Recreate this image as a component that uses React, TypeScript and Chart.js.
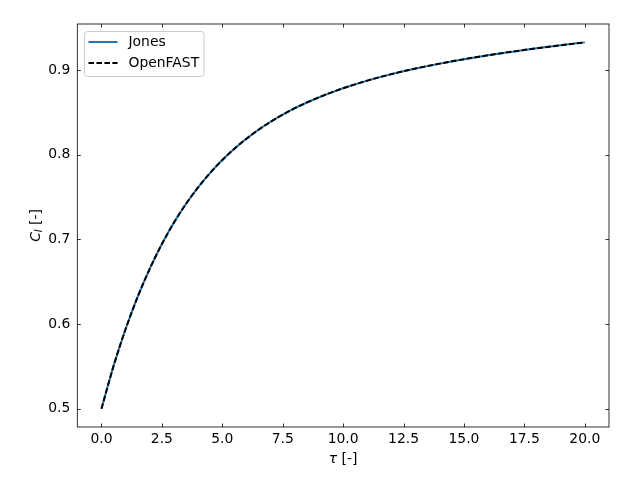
import React, { useEffect, useRef } from "react";
import { Chart, registerables } from "chart.js";

Chart.register(...registerables);

const tau: number[] = [0, 0.5, 1, 1.5, 2, 2.5, 3, 3.5, 4, 4.5, 5, 5.5, 6, 6.5, 7, 7.5, 8, 8.5, 9, 9.5, 10, 11, 12, 13, 14, 15, 16, 17, 18, 19, 20];
const jones: number[] = [0.5, 0.5504, 0.5942, 0.6323, 0.6655, 0.6945, 0.7199, 0.7421, 0.7616, 0.7787, 0.7938, 0.8072, 0.819, 0.8296, 0.839, 0.8474, 0.855, 0.8618, 0.8679, 0.8735, 0.8786, 0.8876, 0.8953, 0.9019, 0.9077, 0.9129, 0.9176, 0.9218, 0.9258, 0.9294, 0.9328];
const openfast: number[] = [0.5, 0.5504, 0.5942, 0.6323, 0.6655, 0.6945, 0.7199, 0.7421, 0.7616, 0.7787, 0.7938, 0.8072, 0.819, 0.8296, 0.839, 0.8474, 0.855, 0.8618, 0.8679, 0.8735, 0.8786, 0.8876, 0.8953, 0.9019, 0.9077, 0.9129, 0.9176, 0.9218, 0.9258, 0.9294, 0.9328];
const xTicks: number[] = [0, 2.5, 5, 7.5, 10, 12.5, 15, 17.5, 20];
const yTicks: number[] = [0.5, 0.6, 0.7, 0.8, 0.9];
const seriesNames: string[] = ["Jones", "OpenFAST"];

const FONT = "DejaVu Sans";
const FS = 13.9;

const decorPlugin = {
  id: "decor",
  afterDraw(chart: any) {
    const ctx = chart.ctx as CanvasRenderingContext2D;
    const { left, right, top, bottom } = chart.chartArea;
    const xs = chart.scales.x;
    const ys = chart.scales.y;
    ctx.save();
    ctx.strokeStyle = "#000";
    ctx.lineWidth = 0.8;
    ctx.strokeRect(left, top, right - left, bottom - top);
    const tl = 3.5;
    ctx.beginPath();
    xTicks.forEach((v) => {
      const px = Math.round(xs.getPixelForValue(v)) + 0.5;
      ctx.moveTo(px, bottom);
      ctx.lineTo(px, bottom - tl);
      ctx.moveTo(px, top);
      ctx.lineTo(px, top + tl);
    });
    yTicks.forEach((v) => {
      const py = Math.round(ys.getPixelForValue(v)) + 0.5;
      ctx.moveTo(left, py);
      ctx.lineTo(left + tl, py);
      ctx.moveTo(right, py);
      ctx.lineTo(right - tl, py);
    });
    ctx.stroke();

    ctx.fillStyle = "#000";
    ctx.textBaseline = "middle";
    const cx = (left + right) / 2;
    const ty = 459;
    ctx.font = `italic ${FS}px ${FONT}`;
    const wTau = ctx.measureText("τ").width;
    ctx.font = `${FS}px ${FONT}`;
    const wRest = ctx.measureText(" [-]").width;
    const sx = cx - (wTau + wRest) / 2;
    ctx.textAlign = "left";
    ctx.font = `italic ${FS}px ${FONT}`;
    ctx.fillText("τ", sx, ty);
    ctx.font = `${FS}px ${FONT}`;
    ctx.fillText(" [-]", sx + wTau, ty);

    ctx.save();
    const cy = (top + bottom) / 2;
    ctx.translate(36, cy);
    ctx.rotate(-Math.PI / 2);
    ctx.font = `italic ${FS}px ${FONT}`;
    const wC = ctx.measureText("C").width;
    ctx.font = `italic ${FS * 0.7}px ${FONT}`;
    const wl = ctx.measureText("l").width;
    ctx.font = `${FS}px ${FONT}`;
    const wB = ctx.measureText(" [-]").width;
    const yx = -(wC + wl + wB) / 2;
    ctx.font = `italic ${FS}px ${FONT}`;
    ctx.fillText("C", yx, 0);
    ctx.font = `italic ${FS * 0.7}px ${FONT}`;
    ctx.fillText("l", yx + wC, 3);
    ctx.font = `${FS}px ${FONT}`;
    ctx.fillText(" [-]", yx + wC + wl, 0);
    ctx.restore();

    const lx = 84.5, ly = 31.5, lw = 119.5, lh = 45;
    ctx.beginPath();
    const r = 3;
    ctx.moveTo(lx + r, ly);
    ctx.lineTo(lx + lw - r, ly);
    ctx.quadraticCurveTo(lx + lw, ly, lx + lw, ly + r);
    ctx.lineTo(lx + lw, ly + lh - r);
    ctx.quadraticCurveTo(lx + lw, ly + lh, lx + lw - r, ly + lh);
    ctx.lineTo(lx + r, ly + lh);
    ctx.quadraticCurveTo(lx, ly + lh, lx, ly + lh - r);
    ctx.lineTo(lx, ly + r);
    ctx.quadraticCurveTo(lx, ly, lx + r, ly);
    ctx.closePath();
    ctx.fillStyle = "rgba(255,255,255,0.8)";
    ctx.fill();
    ctx.strokeStyle = "#cccccc";
    ctx.lineWidth = 1;
    ctx.stroke();

    const rows = [42, 63];
    const styles = [
      { color: "#1f77b4", dash: [] as number[] },
      { color: "#000000", dash: [5.55, 2.4] },
    ];
    rows.forEach((ry, i) => {
      ctx.beginPath();
      ctx.setLineDash(styles[i].dash);
      ctx.strokeStyle = styles[i].color;
      ctx.lineWidth = 2;
      ctx.moveTo(88.5, ry);
      ctx.lineTo(117.5, ry);
      ctx.stroke();
      ctx.setLineDash([]);
      ctx.fillStyle = "#000";
      ctx.font = `${FS}px ${FONT}`;
      ctx.textAlign = "left";
      ctx.textBaseline = "middle";
      ctx.fillText(seriesNames[i], 128.5, ry + 0.5);
    });
    ctx.restore();
  },
};

export default function App() {
  const ref = useRef<HTMLCanvasElement | null>(null);
  useEffect(() => {
    if (!ref.current) return;
    const chart = new Chart(ref.current, {
      type: "line",
      data: {
        datasets: [
          {
            label: seriesNames[0],
            data: tau.map((t, i) => ({ x: t, y: jones[i] })),
            borderColor: "#1f77b4",
            borderWidth: 2,
            pointRadius: 0,
            fill: false,
            order: 2,
            cubicInterpolationMode: "monotone",
          },
          {
            label: seriesNames[1],
            data: tau.map((t, i) => ({ x: t, y: openfast[i] })),
            borderColor: "#000000",
            borderWidth: 2,
            borderDash: [5.55, 2.4],
            pointRadius: 0,
            fill: false,
            order: 1,
            cubicInterpolationMode: "monotone",
          },
        ],
      },
      options: {
        animation: false,
        responsive: false,
        maintainAspectRatio: false,
        layout: { padding: { left: 0, top: 24, right: 31, bottom: 0 } },
        plugins: {
          legend: { display: false },
          tooltip: { enabled: false },
        },
        scales: {
          x: {
            type: "linear",
            min: -1,
            max: 21,
            grid: { display: false, drawTicks: false },
            border: { display: false },
            afterBuildTicks: (s: any) => {
              s.ticks = xTicks.map((v) => ({ value: v }));
            },
            afterFit: (s: any) => {
              s.height = 53;
            },
            ticks: {
              padding: 4,
              color: "#000",
              font: { family: FONT, size: FS },
              maxRotation: 0,
              autoSkip: false,
              callback: (v: any) => Number(v).toFixed(1),
            },
          },
          y: {
            type: "linear",
            min: 0.4784,
            max: 0.9545,
            grid: { display: false, drawTicks: false },
            border: { display: false },
            afterBuildTicks: (s: any) => {
              s.ticks = yTicks.map((v) => ({ value: v }));
            },
            afterFit: (s: any) => {
              s.width = 77.3;
            },
            ticks: {
              padding: 7,
              color: "#000",
              font: { family: FONT, size: FS },
              autoSkip: false,
              callback: (v: any) => Number(v).toFixed(1),
            },
          },
        },
      },
      plugins: [decorPlugin],
    } as any);
    return () => chart.destroy();
  }, []);
  return (
    <div style={{ position: "fixed", left: 0, top: 0, width: 640, height: 480, background: "#fff" }}>
      <canvas ref={ref} width={640} height={480} />
    </div>
  );
}
